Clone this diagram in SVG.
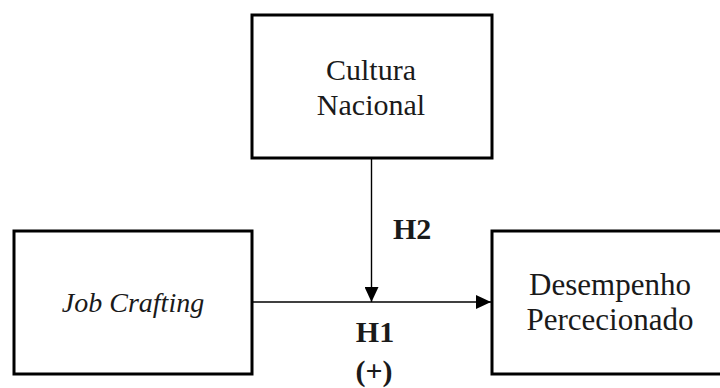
<svg xmlns="http://www.w3.org/2000/svg" width="720" height="388" viewBox="0 0 720 388">
<style>
.box{fill:#fff;stroke:#000;stroke-width:3}
.lbl{font-family:"Liberation Serif","Times New Roman",serif;font-size:30px;fill:#1a1a1a;text-anchor:middle}
.it{font-style:italic;font-size:28px}
.big{font-size:31px}
.hyp{font-family:"Liberation Serif","Times New Roman",serif;font-size:30px;font-weight:bold;fill:#1a1a1a}
.conn{stroke:#000;stroke-width:1.4;fill:none}
</style>
<defs>
<marker id="arr" viewBox="0 0 15 14" refX="15" refY="7" markerWidth="15" markerHeight="14" markerUnits="userSpaceOnUse" orient="auto">
<path d="M0,0 L15,7 L0,14 Z" fill="#000"/>
</marker>
</defs>
<rect width="720" height="388" fill="#fff"/>
<g id="cultura">
<rect class="box" x="252" y="15" width="240" height="143"/>
<text class="lbl" x="371" y="80">Cultura</text>
<text class="lbl" x="371" y="115">Nacional</text>
</g>
<g id="job-crafting">
<rect class="box" x="14" y="231" width="238" height="143"/>
<text class="lbl it" x="133" y="312">Job Crafting</text>
</g>
<g id="desempenho">
<rect class="box" x="492" y="231" width="238" height="143"/>
<text class="lbl big" x="610" y="295">Desempenho</text>
<text class="lbl big" x="610" y="330">Percecionado</text>
</g>
<g id="connectors">
<line class="conn" x1="252" y1="302" x2="491" y2="302" marker-end="url(#arr)"/>
<line class="conn" x1="371.5" y1="158" x2="371.5" y2="302" marker-end="url(#arr)"/>
</g>
<g id="labels">
<text class="hyp" x="393" y="239">H2</text>
<text class="hyp" x="375" y="342" text-anchor="middle">H1</text>
<text class="hyp" x="374" y="381" text-anchor="middle">(+)</text>
</g>
</svg>
